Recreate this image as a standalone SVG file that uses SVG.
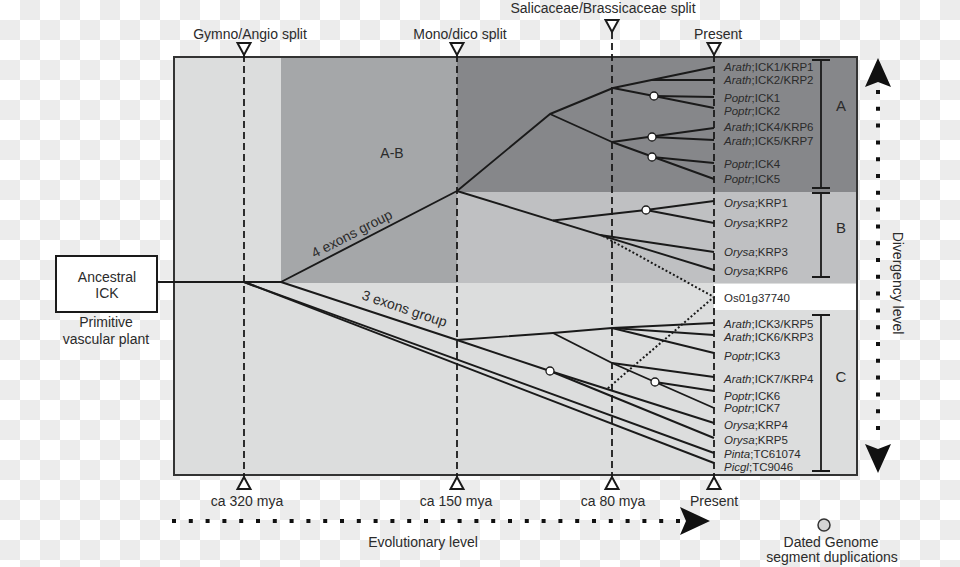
<svg xmlns="http://www.w3.org/2000/svg" width="960" height="567" viewBox="0 0 960 567">
<defs>
<pattern id="chk" x="0" y="0" width="40" height="40" patternUnits="userSpaceOnUse">
<rect width="40" height="40" fill="#ffffff"/>
<rect x="20" y="0" width="20" height="20" fill="#ececec"/>
<rect x="0" y="20" width="20" height="20" fill="#ececec"/>
</pattern>
<style>
text{font-family:"Liberation Sans",Arial,sans-serif;fill:#2b2b2b}
.lab{font-size:14px}
.leaf{font-size:11.5px}
.leaf tspan.i{font-style:italic}
.big{font-size:15px}
.dash{stroke:#1a1a1a;stroke-width:1.8;stroke-dasharray:7 4;fill:none}
.tri{fill:#fff;stroke:#1a1a1a;stroke-width:2}
.br{stroke:#1a1a1a;stroke-width:1.8;fill:none}
.tree path{stroke:#1a1a1a;stroke-width:1.9;fill:none;stroke-linejoin:round}
.dup{fill:#fff;stroke:#1a1a1a;stroke-width:1.3}
.dots{stroke:#111;stroke-width:4;fill:none}
</style>
</defs>
<rect width="960" height="567" fill="url(#chk)"/>

<g id="regions">
<rect x="174" y="57" width="683" height="418" fill="#dcdddd"/>
<rect x="281" y="57" width="176" height="226" fill="#a5a7a9"/>
<rect x="457" y="57" width="400" height="135" fill="#86878a"/>
<rect x="457" y="192" width="400" height="91" fill="#bfc0c2"/>
<rect x="714" y="284" width="143" height="26" fill="#ffffff"/>
<rect x="174" y="57" width="683" height="418" fill="none" stroke="#333" stroke-width="2"/>
</g>

<g id="timelines">
<line class="dash" x1="244" y1="55" x2="244" y2="477"/>
<line class="dash" x1="457" y1="55" x2="457" y2="477"/>
<line class="dash" x1="612" y1="32" x2="612" y2="477"/>
<line class="dash" x1="714" y1="55" x2="714" y2="477"/>
<polygon class="tri" points="237.5,43 250.5,43 244,55"/>
<polygon class="tri" points="450.5,43 463.5,43 457,55"/>
<polygon class="tri" points="605.5,20 618.5,20 612,32"/>
<polygon class="tri" points="707.5,43 720.5,43 714,55"/>
<polygon class="tri" points="244,477 237.5,489 250.5,489"/>
<polygon class="tri" points="457,477 450.5,489 463.5,489"/>
<polygon class="tri" points="612,477 605.5,489 618.5,489"/>
<polygon class="tri" points="714,477 707.5,489 720.5,489"/>
<text class="lab" x="250" y="39" text-anchor="middle">Gymno/Angio split</text>
<text class="lab" x="460" y="39" text-anchor="middle">Mono/dico split</text>
<text class="lab" x="603" y="13" text-anchor="middle">Salicaceae/Brassicaceae split</text>
<text class="lab" x="718" y="39" text-anchor="middle">Present</text>
<text class="lab" x="247" y="506" text-anchor="middle">ca 320 mya</text>
<text class="lab" x="456" y="506" text-anchor="middle">ca 150 mya</text>
<text class="lab" x="613" y="506" text-anchor="middle">ca 80 mya</text>
<text class="lab" x="714" y="506" text-anchor="middle">Present</text>
</g>

<g id="brackets">
<path class="br" d="M821,60 V188 M812,60 H830 M812,188 H830"/>
<path class="br" d="M821,193 V277 M812,193 H830 M812,277 H830"/>
<path class="br" d="M821,315 V471 M812,315 H830 M812,471 H830"/>
<text class="big" x="841" y="111" text-anchor="middle">A</text>
<text class="big" x="841" y="233" text-anchor="middle">B</text>
<text class="big" x="841" y="382" text-anchor="middle">C</text>
<text class="lab" x="392" y="158" text-anchor="middle">A-B</text>
</g>

<g id="ancestral">
<rect x="56" y="256" width="101" height="56" fill="#fff" stroke="#1a1a1a" stroke-width="2"/>
<text class="lab" x="107" y="282" text-anchor="middle">Ancestral</text>
<text class="lab" x="107" y="298" text-anchor="middle">ICK</text>
<text class="lab" x="106" y="327" text-anchor="middle">Primitive</text>
<text class="lab" x="106" y="344" text-anchor="middle">vascular plant</text>
</g>

<g id="connectors" class="tree">
<path d="M157,282 H281"/>
<path d="M281,282 L457,191"/>
<path d="M457,191 L550,114 L613,88 L714,67"/>
<path d="M651,80 H714"/>
<path d="M613,88 L654,96 L714,108"/>
<path d="M654,96 L714,97"/>
<path d="M550,114 L612,142 L714,179"/>
<path d="M652,157 L714,163"/>
<path d="M612,142 L714,128"/>
<path d="M652,137 L714,140"/>
<path d="M457,191 L714,270"/>
<path d="M553,220.5 L646,210 L714,201"/>
<path d="M646,210 L714,223"/>
<path d="M600,235 L714,252"/>
<path d="M281,282 L457,340 L550,371 L714,423"/>
<path d="M550,371 L714,438"/>
<path d="M244,282 L714,453"/>
<path d="M244,282 L714,463"/>
<path d="M457,340 L553,333 L612,328 L714,323"/>
<path d="M612,328 L714,335"/>
<path d="M612,328 L714,353"/>
<path d="M553,333 L612,363 L655,382 L714,408"/>
<path d="M612,363 L714,377"/>
<path d="M655,382 L714,391"/>
<path d="M603,236 L714,297 L607,389" style="stroke-width:2;stroke-dasharray:2 2.2"/>
</g>

<g id="duplications">
<circle class="dup" cx="654" cy="96" r="4"/>
<circle class="dup" cx="652" cy="137" r="4"/>
<circle class="dup" cx="652" cy="157" r="4"/>
<circle class="dup" cx="646" cy="210" r="4"/>
<circle class="dup" cx="550" cy="371" r="4"/>
<circle class="dup" cx="655" cy="382" r="4"/>
</g>

<g id="group-labels">
<text class="lab" transform="translate(354,238) rotate(-27.3)" text-anchor="middle">4 exons group</text>
<text class="lab" transform="translate(403,313) rotate(18.5)" text-anchor="middle">3 exons group</text>
</g>

<g id="leaves" class="leaf">
<text class="leaf" x="724" y="71"><tspan class="i">Arath</tspan>;ICK1/KRP1</text>
<text class="leaf" x="724" y="84"><tspan class="i">Arath</tspan>;ICK2/KRP2</text>
<text class="leaf" x="724" y="102"><tspan class="i">Poptr</tspan>;ICK1</text>
<text class="leaf" x="724" y="115"><tspan class="i">Poptr</tspan>;ICK2</text>
<text class="leaf" x="724" y="131"><tspan class="i">Arath</tspan>;ICK4/KRP6</text>
<text class="leaf" x="724" y="145"><tspan class="i">Arath</tspan>;ICK5/KRP7</text>
<text class="leaf" x="724" y="168"><tspan class="i">Poptr</tspan>;ICK4</text>
<text class="leaf" x="724" y="183"><tspan class="i">Poptr</tspan>;ICK5</text>
<text class="leaf" x="724" y="207"><tspan class="i">Orysa</tspan>;KRP1</text>
<text class="leaf" x="724" y="227"><tspan class="i">Orysa</tspan>;KRP2</text>
<text class="leaf" x="724" y="256"><tspan class="i">Orysa</tspan>;KRP3</text>
<text class="leaf" x="724" y="275"><tspan class="i">Orysa</tspan>;KRP6</text>
<text class="leaf" x="724" y="302">Os01g37740</text>
<text class="leaf" x="724" y="328"><tspan class="i">Arath</tspan>;ICK3/KRP5</text>
<text class="leaf" x="724" y="341"><tspan class="i">Arath</tspan>;ICK6/KRP3</text>
<text class="leaf" x="724" y="360"><tspan class="i">Poptr</tspan>;ICK3</text>
<text class="leaf" x="724" y="383"><tspan class="i">Arath</tspan>;ICK7/KRP4</text>
<text class="leaf" x="724" y="399.5"><tspan class="i">Poptr</tspan>;ICK6</text>
<text class="leaf" x="724" y="412"><tspan class="i">Poptr</tspan>;ICK7</text>
<text class="leaf" x="724" y="429"><tspan class="i">Orysa</tspan>;KRP4</text>
<text class="leaf" x="724" y="444"><tspan class="i">Orysa</tspan>;KRP5</text>
<text class="leaf" x="724" y="458"><tspan class="i">Pinta</tspan>;TC61074</text>
<text class="leaf" x="724" y="470.5"><tspan class="i">Picgl</tspan>;TC9046</text>
</g>

<g id="axes">
<line class="dots" x1="172" y1="521" x2="680" y2="521" stroke-dasharray="4 12.8"/>
<path d="M710,521 L680,507 L686,521 L680,535 Z" fill="#111"/>
<text class="lab" x="423" y="547" text-anchor="middle">Evolutionary level</text>
<line class="dots" x1="878" y1="90" x2="878" y2="432" stroke-dasharray="4 12.8"/>
<path d="M878,58 L865,87 L878,82 L891,87 Z" fill="#111"/>
<path d="M878,473 L865,444 L878,449 L891,444 Z" fill="#111"/>
<text class="lab" transform="translate(893,283) rotate(90)" text-anchor="middle">Divergency level</text>
</g>

<g id="legend">
<circle cx="824" cy="525" r="6" fill="#d4d4d4" stroke="#333" stroke-width="1.5"/>
<text class="lab" x="831" y="547" text-anchor="middle">Dated Genome</text>
<text class="lab" x="832" y="562" text-anchor="middle">segment duplications</text>
</g>
</svg>
